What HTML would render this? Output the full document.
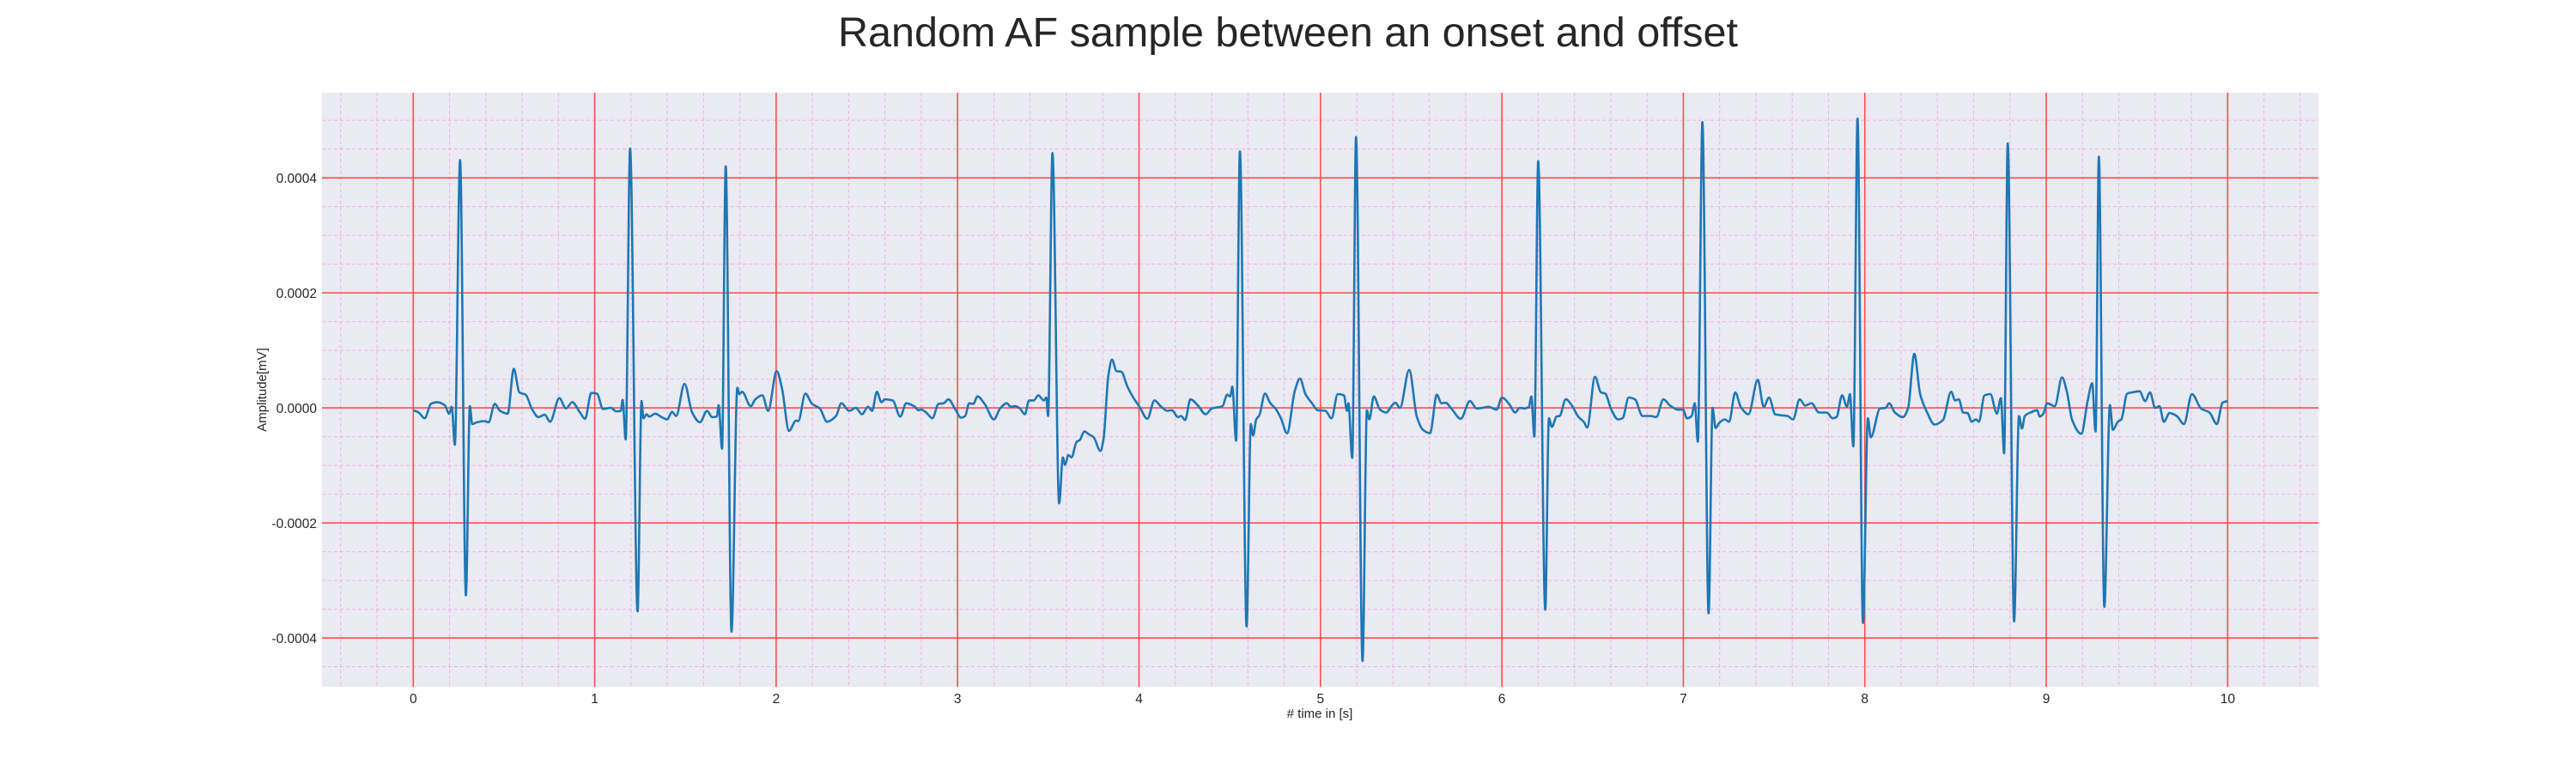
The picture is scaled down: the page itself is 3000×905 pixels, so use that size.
<!DOCTYPE html>
<html><head><meta charset="utf-8">
<style>
html,body{margin:0;padding:0;background:#fff;}
body{width:3000px;height:900px;overflow:hidden;font-family:"Liberation Sans",Arial,sans-serif;}
svg text{font-family:"Liberation Sans",Arial,sans-serif;fill:#262626;}
</style></head>
<body>
<svg id="chart" width="3000" height="900" viewBox="0 0 3000 900" xmlns="http://www.w3.org/2000/svg">
  <text x="1500" y="54" font-size="48.5" text-anchor="middle">Random AF sample between an onset and offset</text>
  <rect x="375" y="108" width="2325" height="692" fill="#eaeaf2"/>
  <g id="grid"></g>
  <g id="series"></g>
  <g id="ticks"></g>
  <text x="0" y="0" font-size="15" text-anchor="middle" transform="translate(310,454) rotate(-90)">Amplitude[mV]</text>
  <text x="1537" y="836" font-size="15" text-anchor="middle"># time in [s]</text>
</svg>
<script>
const UNIT = 1e-5;
const xTickLabels = ["0","1","2","3","4","5","6","7","8","9","10"];
const xTickValues = [0,1,2,3,4,5,6,7,8,9,10];
const yTickLabels = ["-0.0004","-0.0002","0.0000","0.0002","0.0004"];
const yTickValues = [-0.0004,-0.0002,0,0.0002,0.0004];
const times = [
0,0.03,0.063,0.097,0.13,0.173,0.198,0.212,0.229,0.258,0.29,0.312,0.325,0.351,0.393,0.415,0.449,0.478,0.52,0.554,0.585,0.619,0.656,0.69,0.724,0.754,0.805,0.842,0.876,0.919,0.947,0.981,1.012,1.046,1.088,1.12,1.144,1.154,1.171,1.195,1.236,1.258,1.269,1.286,1.3,1.334,1.368,1.398,1.427,1.449,1.495,1.537,1.58,1.619,1.647,1.673,1.683,1.702,1.722,1.754,1.786,1.797,1.812,1.86,1.885,1.924,1.956,2.003,2.032,2.071,2.11,2.122,2.161,2.198,2.241,2.28,2.33,2.359,2.403,2.439,2.473,2.507,2.529,2.555,2.58,
2.6,2.642,2.684,2.717,2.76,2.785,2.799,2.827,2.861,2.895,2.924,2.949,2.988,3.019,3.042,3.064,3.086,3.11,3.149,3.2,3.234,3.272,3.293,3.318,3.343,3.371,3.394,3.42,3.445,3.475,3.489,3.499,3.523,3.56,3.58,3.592,3.611,3.628,3.656,3.673,3.699,3.724,3.75,3.787,3.804,3.831,3.851,3.876,3.902,3.936,3.97,4.003,4.046,4.085,4.122,4.156,4.181,4.215,4.232,4.254,4.283,4.325,4.367,4.401,4.46,4.486,4.503,4.514,4.535,4.556,4.593,4.616,4.629,4.646,4.663,4.694,4.722,4.756,4.782,4.816,4.858,4.887,4.917,4.951,4.985,5.027,5.061,5.095,5.129,5.146,5.154,5.175,5.196,5.232,
5.256,5.269,5.294,5.328,5.362,5.396,5.413,5.438,5.489,5.531,5.565,5.604,5.641,5.667,5.689,5.726,5.773,5.824,5.861,5.892,5.926,5.971,6.0,6.039,6.073,6.098,6.124,6.149,6.162,6.179,6.2,6.239,6.259,6.276,6.301,6.318,6.352,6.386,6.42,6.453,6.47,6.513,6.546,6.569,6.603,6.64,6.665,6.699,6.733,6.775,6.817,6.851,6.89,6.927,6.97,6.998,7.02,7.046,7.063,7.08,7.105,7.139,7.161,7.178,7.198,7.228,7.252,7.286,7.316,7.359,7.41,7.443,7.472,7.506,7.545,7.574,7.604,7.641,7.672,7.706,7.748,7.79,
7.823,7.844,7.875,7.902,7.918,7.937,7.96,7.99,8.017,8.033,8.084,8.115,8.134,8.166,8.21,8.239,8.273,8.305,8.344,8.384,8.431,8.476,8.498,8.518,8.542,8.566,8.589,8.613,8.629,8.66,8.692,8.728,8.75,8.768,8.788,8.823,8.85,8.866,8.882,8.913,8.949,8.965,8.984,9.005,9.047,9.087,9.114,9.142,9.193,9.229,9.253,9.272,9.29,9.32,9.351,9.367,9.395,9.414,9.446,9.474,9.514,9.545,9.572,9.6,9.624,9.648,9.68,9.719,9.759,9.803,9.853,9.9,9.94,9.972,10.0
];
const amplitudes = [
-0.4,-0.8,-1.8,0.7,1.0,0.5,-1.0,0.2,-6.4,43.1,-32.6,0.3,-2.8,-2.5,-2.3,-2.5,0.7,-0.5,-1.0,6.8,2.7,2.3,-0.3,-1.6,-1.2,-2.4,1.7,-0.1,1.0,-0.8,-1.9,2.6,2.5,-0.2,0.0,-0.6,-0.5,1.4,-5.5,45.1,-35.4,1.2,-1.8,-1.1,-1.5,-1.0,-1.6,-2.0,-0.7,-1.4,4.2,-0.8,-2.5,-0.5,-1.6,-1.5,0.5,-7.1,42.0,-38.9,3.5,2.4,2.8,0.3,1.5,2.2,-0.5,6.4,3.4,-4.0,-2.2,-2.3,2.5,0.7,-0.1,-2.4,-1.4,0.8,-0.5,0.0,-1.1,0.2,-0.5,2.8,1.0,
1.5,1.3,-1.5,0.8,0.3,-0.4,-0.3,-0.8,-1.8,0.7,0.8,1.5,-0.3,-1.7,-1.4,0.8,0.7,2.0,0.7,-2.0,-0.1,0.8,0.2,0.3,-0.1,-1.1,1.3,1.3,2.2,1.3,1.8,-1.4,44.3,-16.6,-8.6,-9.9,-8.2,-8.6,-5.9,-5.6,-4.1,-4.6,-5.1,-7.5,-5.5,5.6,8.4,6.4,6.3,3.7,1.7,0.2,-1.9,1.3,0.2,-0.5,-0.4,-1.6,-1.4,-2.1,1.5,0.4,-1.1,-0.1,0.3,2.3,2.0,3.7,-5.7,44.6,-38.0,-2.8,-4.8,-2.0,-1.3,2.5,0.9,-0.3,-1.8,-4.4,2.9,5.1,2.4,0.9,-0.4,-0.5,-1.8,2.4,2.2,-0.5,0.8,-8.7,47.1,-44.0,
-0.4,-2.0,2.0,-0.3,-0.8,0.5,0.9,0.0,6.6,-1.5,-3.8,-4.4,2.3,0.8,0.9,-0.3,-1.9,1.2,-0.1,0.0,0.2,-0.3,1.8,0.7,-0.8,0.0,-0.1,0.2,2.0,-5.0,42.9,-35.1,-1.8,-3.3,-1.5,-1.4,1.5,0.4,-1.5,-2.5,-3.4,5.4,2.7,2.5,-0.3,-2.0,-1.8,1.8,1.5,-1.4,-1.4,-1.6,1.5,0.4,-0.3,-0.3,-1.8,-1.4,0.8,-5.9,49.7,-35.7,0.0,-3.5,-2.6,-2.0,-2.4,2.7,0.2,-1.1,4.9,0.2,1.8,-1.1,-1.3,-1.4,-2.0,1.5,0.4,0.8,-0.8,-0.8,
-1.8,-1.6,2.2,0.2,2.4,-6.7,50.3,-37.4,-1.8,-5.1,-0.1,0.0,0.8,-0.8,-1.6,0.0,9.4,2.4,-0.8,-2.9,-2.1,2.8,1.3,1.5,-0.8,-0.9,-2.4,-2.0,-2.4,2.2,2.4,-1.0,1.7,-7.9,46.0,-37.1,-1.4,-3.6,-1.4,-0.8,-0.4,-1.5,-1.0,0.8,0.3,5.3,2.8,-2.0,-4.5,1.3,4.3,-4.1,43.7,-34.6,0.5,-3.8,-2.4,-2.0,2.5,2.7,2.9,1.2,2.7,0.0,0.3,-2.4,-0.9,-1.4,-2.8,2.4,-0.1,-0.8,-2.8,0.9,1.2
];

const X0 = 375, X1 = 2700, Y0 = 108, Y1 = 800;
const xMin = -0.503, xMax = 10.5, yMin = -0.000485, yMax = 0.000548;
function xs(t){ return X0 + (t - xMin) / (xMax - xMin) * (X1 - X0); }
function ys(v){ return Y1 - (v - yMin) / (yMax - yMin) * (Y1 - Y0); }
const NS = "http://www.w3.org/2000/svg";
const grid = document.getElementById('grid');
const ticks = document.getElementById('ticks');
const series = document.getElementById('series');

function line(x1,y1,x2,y2,stroke,w,dash,name,op){
  const l = document.createElementNS(NS,'line');
  l.setAttribute('x1',x1); l.setAttribute('y1',y1); l.setAttribute('x2',x2); l.setAttribute('y2',y2);
  l.setAttribute('stroke',stroke); l.setAttribute('stroke-width',w);
  if(dash) l.setAttribute('stroke-dasharray',dash);
  if(op) l.setAttribute('stroke-opacity',op);
  
  
  grid.appendChild(l);
}
for(let k=-2;k<=52;k++){
  const t = k*0.2;
  if(t < xMin || t > xMax) continue;
  if(k % 5 === 0) continue;
  line(xs(t),Y0,xs(t),Y1,'#f39ee0',1,'4,3','x-minor-gridline',0.75);
}
for(let k=-10;k<=11;k++){
  const v = k*0.00005;
  if(v < yMin || v > yMax) continue;
  if(k % 4 === 0) continue;
  line(X0,ys(v),X1,ys(v),'#f39ee0',1,'4,3','y-minor-gridline',0.75);
}
xTickValues.forEach(t => line(xs(t),Y0,xs(t),Y1,'#ff4d4d',1.6,null,'x-major-gridline'));
yTickValues.forEach(v => line(X0,ys(v),X1,ys(v),'#ff4d4d',1.6,null,'y-major-gridline'));

xTickValues.forEach((t,i) => {
  const tx = document.createElementNS(NS,'text');
  tx.setAttribute('x', xs(t)); tx.setAttribute('y', 819);
  tx.setAttribute('font-size','15.5'); tx.setAttribute('text-anchor','middle');
  tx.textContent = xTickLabels[i];
  
  
  ticks.appendChild(tx);
});
yTickValues.forEach((v,i) => {
  const tx = document.createElementNS(NS,'text');
  tx.setAttribute('x', 369); tx.setAttribute('y', ys(v)+6);
  tx.setAttribute('font-size','15.5'); tx.setAttribute('text-anchor','end');
  tx.textContent = yTickLabels[i];
  
  
  ticks.appendChild(tx);
});

// monotone cubic interpolation (no overshoot)
const px = times.map(xs);
const py = amplitudes.map(a => ys(a*UNIT));
const n = px.length;
const d = [], m = new Array(n);
for(let i=0;i<n-1;i++) d.push((py[i+1]-py[i])/(px[i+1]-px[i]));
m[0]=d[0]; m[n-1]=d[n-2];
for(let i=1;i<n-1;i++){
  if(d[i-1]*d[i] <= 0) m[i]=0;
  else { const h0=px[i]-px[i-1], h1=px[i+1]-px[i];
    m[i] = 3*(h0+h1)/((2*h1+h0)/d[i-1] + (h1+2*h0)/d[i]); }
}
let path = 'M' + px[0].toFixed(1) + ',' + py[0].toFixed(1);
for(let i=0;i<n-1;i++){
  const h = (px[i+1]-px[i])/3;
  path += ' C' + (px[i]+h).toFixed(1) + ',' + (py[i]+m[i]*h).toFixed(1) + ' ' +
          (px[i+1]-h).toFixed(1) + ',' + (py[i+1]-m[i+1]*h).toFixed(1) + ' ' +
          px[i+1].toFixed(1) + ',' + py[i+1].toFixed(1);
}
const pl = document.createElementNS(NS,'path');
pl.setAttribute('d', path);
pl.setAttribute('fill','none');
pl.setAttribute('stroke','#1f77b4');
pl.setAttribute('stroke-width','2.6');
pl.setAttribute('stroke-linejoin','round');


series.appendChild(pl);
</script>
</body></html>
